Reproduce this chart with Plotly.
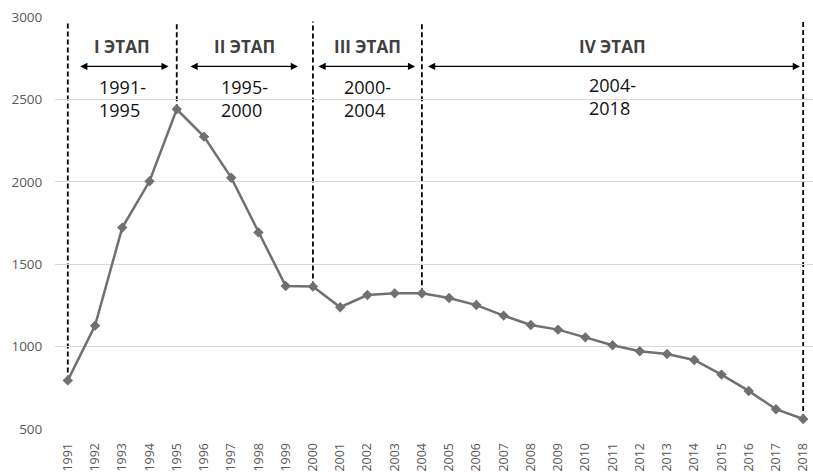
import plotly.graph_objects as go

years = list(range(1991, 2019))
values = [795, 1127, 1722, 2003, 2440, 2274, 2025, 1693, 1368, 1364,
          1239, 1313, 1323, 1323, 1295, 1252, 1188, 1131, 1103, 1056,
          1008, 972, 955, 919, 830, 731, 620, 561]
stage_bounds = [1991, 1995, 2000, 2004, 2018]
stage_titles = ["I ЭТАП", "II ЭТАП", "III ЭТАП", "IV ЭТАП"]
stage_periods = ["1991-<br>1995", "1995-<br>2000", "2000-<br>2004", "2004-<br>2018"]
y_ticks = [500, 1000, 1500, 2000, 2500, 3000]

val_of = dict(zip(years, values))
FONT = "Open Sans"

fig = go.Figure()
fig.add_trace(go.Scatter(
    x=years, y=values, mode="lines+markers",
    line=dict(color="#707070", width=2.5),
    marker=dict(symbol="diamond", size=8, color="#707070"),
    showlegend=False, hoverinfo="skip", cliponaxis=False,
))

shapes = []
for b in stage_bounds:
    shapes.append(dict(type="line", xref="x", yref="y", x0=b, x1=b,
                       y0=val_of[b], y1=2972, layer="below",
                       line=dict(color="black", width=1.8, dash="5px,3px")))

annotations = []
gaps = [(0.4, 0.3), (0.45, 0.55), (0.15, 0.25), (0.17, 0.12)]
for i in range(4):
    a, b = stage_bounds[i], stage_bounds[i + 1]
    mid = (a + b) / 2
    g0, g1 = gaps[i]
    annotations.append(dict(
        x=b - g1, y=2700, ax=a + g0, ay=2700, xref="x", yref="y",
        axref="x", ayref="y", text="", showarrow=True,
        arrowhead=2, startarrowhead=2, arrowside="end+start",
        arrowsize=1.1, startarrowsize=1.1, arrowwidth=1.3, arrowcolor="black",
        standoff=0, startstandoff=0,
    ))
    annotations.append(dict(
        x=mid, y=2818, xref="x", yref="y", text="<b>%s</b>" % stage_titles[i],
        showarrow=False, font=dict(family=FONT, size=17, color="#404040"),
    ))
    annotations.append(dict(
        x=mid, y=2505 if i < 3 else 2520, xref="x", yref="y", text=stage_periods[i],
        showarrow=False, align="left",
        font=dict(family=FONT, size=18, color="#111111"),
    ))

fig.update_layout(
    width=813, height=472,
    margin=dict(l=55, r=0, t=17, b=43, autoexpand=False),
    paper_bgcolor="white", plot_bgcolor="white",
    shapes=shapes, annotations=annotations,
    font=dict(family=FONT),
    xaxis=dict(
        range=[1990.53, 2018.36], tickvals=years, ticktext=[str(y) for y in years],
        tickangle=-90, showgrid=False, zeroline=False, showline=False,
        automargin=False,
        ticks="outside", ticklen=8, tickcolor="rgba(0,0,0,0)",
        tickfont=dict(family=FONT, size=12.5, color="#595959"),
    ),
    yaxis=dict(
        range=[500, 3000], tickvals=y_ticks, showgrid=True, gridcolor="#d9d9d9",
        gridwidth=1, zeroline=False, showline=False, automargin=False,
        ticks="outside", ticklen=9, tickcolor="rgba(0,0,0,0)",
        tickfont=dict(family=FONT, size=13.5, color="#595959"),
    ),
)

fig.write_html(
    "out.html",
    config={"displayModeBar": False},
    post_script="document.body.style.margin='0';document.body.style.overflow='hidden';",
)
